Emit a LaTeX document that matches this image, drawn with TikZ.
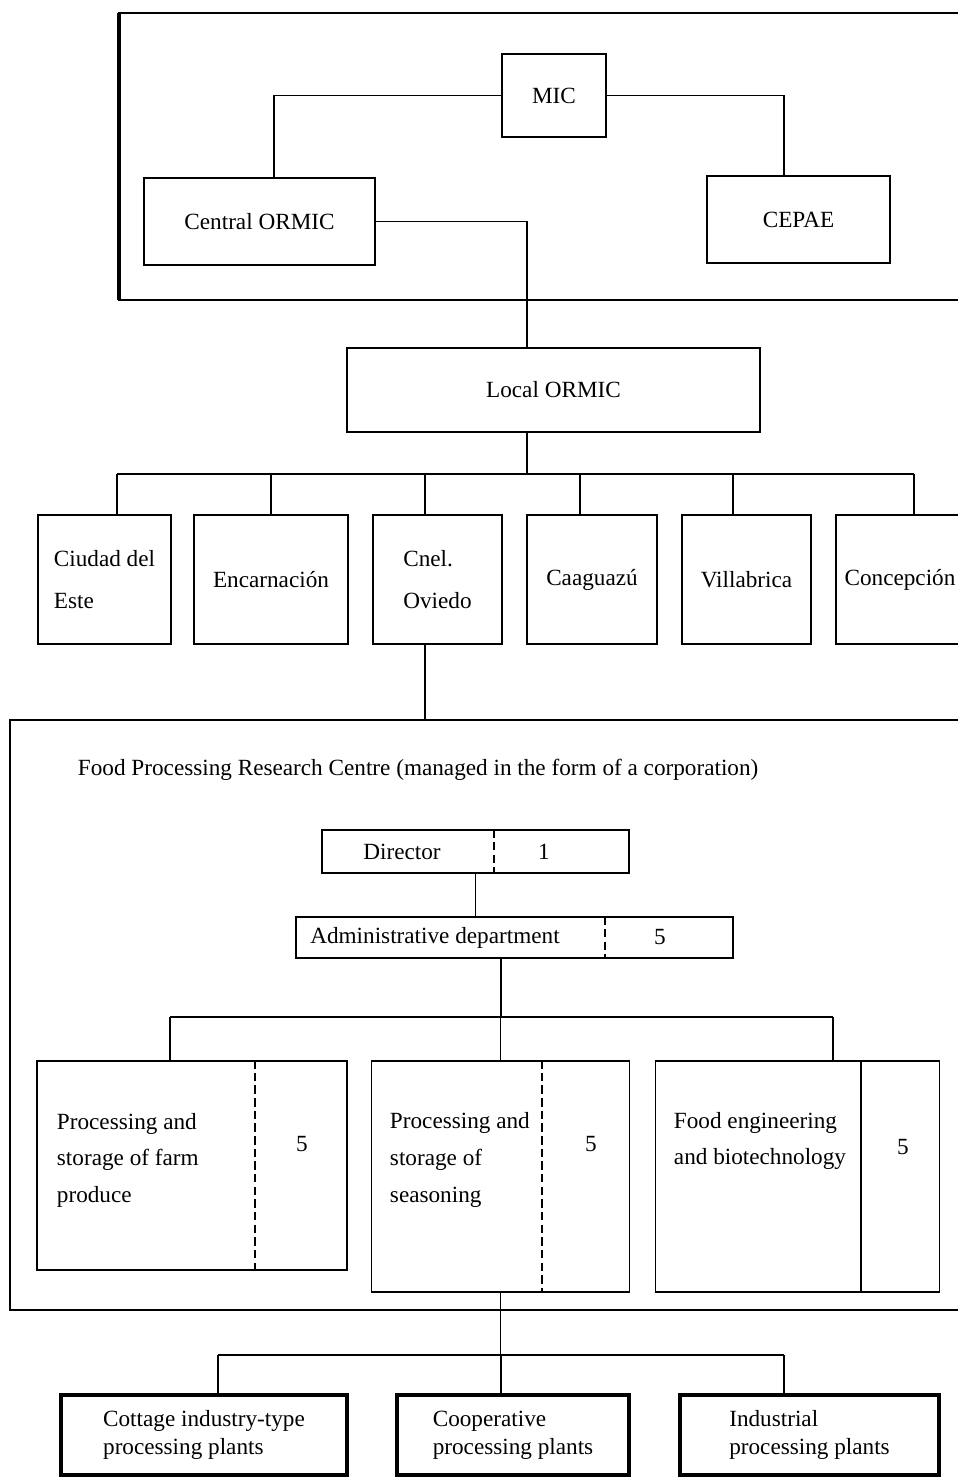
\documentclass[tikz,border=0pt]{standalone}
\usepackage{fontspec}
\setmainfont{Liberation Serif}
\begin{document}
\begin{tikzpicture}[x=0.025cm,y=-0.025cm,
  office/.style={draw,line width=1.5pt,align=left,font=\fontsize{16.5}{30}\selectfont},
  cell/.style={draw,line width=1pt},
  dept/.style={draw,line width=1.2pt},
  plant/.style={draw,line width=2.4pt,align=left,font=\fontsize{16.5}{20}\selectfont},
  lbl/.style={font=\fontsize{16.5}{26}\selectfont,align=left},
  frame/.style={line width=1.1pt},
  link/.style={line width=1.3pt},
  split/.style={line width=1.1pt,dash pattern=on 6pt off 3pt}]
  \useasboundingbox (0,0) rectangle (958,1477);
  \clip (0,0) rectangle (958,1477);
  \draw[frame] (958,13) -- (119,13) -- (119,300) -- (958,300);
  \draw[line width=2.4pt] (119,13) -- (119,300);
  \node[office,minimum width=2.6cm,minimum height=2.075cm] (mic) at (554,95.5) {MIC};
  \node[office,minimum width=5.775cm,minimum height=2.175cm] (cormic) at (259.5,221.5) {Central ORMIC};
  \node[office,minimum width=4.575cm,minimum height=2.175cm] (cepae) at (798.5,219.5) {CEPAE};
  \node[office,minimum width=10.325cm,minimum height=2.1cm] (lormic) at (553.5,390) {Local ORMIC};
  \draw[link] (mic.west) -| ([xshift=0.36cm]cormic.north);
  \draw[link] (mic.east) -| ([xshift=-0.36cm]cepae.north);
  \draw[link] (cormic.east) -| ([xshift=-0.66cm]lormic.north);
  \node[office,minimum width=3.325cm,minimum height=3.225cm] (ciudad) at (104.5,579.5) {Ciudad del\\Este};
  \node[office,minimum width=3.85cm,minimum height=3.225cm] (encarn) at (271,579.5) {Encarnación};
  \node[office,minimum width=3.225cm,minimum height=3.225cm] (cnel) at (437.5,579.5) {Cnel.\\Oviedo};
  \node[office,minimum width=3.25cm,minimum height=3.225cm] (caag) at (592,579.5) {Caaguazú};
  \node[office,minimum width=3.225cm,minimum height=3.225cm] (villa) at (746.5,579.5) {Villabrica};
  \node[office,minimum width=3.2cm,minimum height=3.225cm] (conc) at (900,579.5) {Concepción};
  \coordinate (obus) at (0,474);
  \draw[link] ([xshift=-0.66cm]lormic.south) -- ([xshift=-0.66cm]lormic.south |- obus);
  \draw[link] ([xshift=0.31cm]ciudad.north |- obus) -- ([xshift=0.35cm]conc.north |- obus);
  \foreach \n/\s in {ciudad/0.31,encarn/0,cnel/-0.31,caag/-0.3,villa/-0.34,conc/0.35}
    \draw[link] ([xshift=\s cm]\n.north) -- ([xshift=\s cm]\n.north |- obus);
  \coordinate (ftop) at (0,720);
  \draw[frame] (958,720) -- (10,720) -- (10,1310) -- (958,1310);
  \draw[link] ([xshift=-0.31cm]cnel.south) -- ([xshift=-0.31cm]cnel.south |- ftop);
  \node[lbl,anchor=west] (title) at (73,770) {Food Processing Research Centre (managed in the form of a corporation)};
  \node[cell,minimum width=7.675cm,minimum height=1.075cm] (dir) at (475.5,851.5) {};
  \node[lbl] (dirname) at (402,851.5) {Director};
  \node[lbl] (dirnum) at (544,851.5) {1};
  \draw[split] (dir.north -| 494,0) -- (dir.south -| 494,0);
  \node[cell,minimum width=10.925cm,minimum height=1.025cm] (adm) at (514.5,937.5) {};
  \node[lbl] (admname) at (435,937.5) {Administrative department};
  \node[lbl] (admnum) at (660,937.5) {5};
  \draw[split] (adm.north -| 605,0) -- (adm.south -| 605,0);
  \draw[link] (dir.south) -- (dir.south |- adm.north);
  \node[dept,minimum width=7.75cm,minimum height=5.225cm] (farm) at (192,1165.5) {};
  \node[dept,minimum width=6.45cm,minimum height=5.775cm] (season) at (500.5,1176.5) {};
  \node[dept,minimum width=7.1cm,minimum height=5.775cm] (biotech) at (797.5,1176.5) {};
  \draw[split] (farm.north -| 255,0) -- (farm.south -| 255,0);
  \draw[split] (season.north -| 542,0) -- (season.south -| 542,0);
  \draw[link] (biotech.north -| 861,0) -- (biotech.south -| 861,0);
  \node[lbl,anchor=west] (farmtext) at (52,1160) {Processing and\\storage of farm\\produce};
  \node[lbl,anchor=west] (seasontext) at (385,1160) {Processing and\\storage of\\seasoning};
  \node[lbl,anchor=west] (biotechtext) at (669,1141) {Food engineering\\and biotechnology};
  \node[lbl] (farmnum) at (302,1144) {5};
  \node[lbl] (seasonnum) at (591,1144) {5};
  \node[lbl] (biotechnum) at (903,1147) {5};
  \coordinate (dbus) at (0,1017);
  \draw[link] ([xshift=-0.34cm]adm.south) -- ([xshift=-0.34cm]adm.south |- dbus);
  \draw[link] ([xshift=-0.55cm]farm.north |- dbus) -- ([xshift=0.89cm]biotech.north |- dbus);
  \foreach \n/\s in {farm/-0.55,season/0,biotech/0.89}
    \draw[link] ([xshift=\s cm]\n.north) -- ([xshift=\s cm]\n.north |- dbus);
  \node[plant,minimum width=7.15cm,minimum height=2cm] (cottage) at (204,1435) {Cottage industry-type\\processing plants};
  \node[plant,minimum width=5.8cm,minimum height=2cm] (coop) at (513,1435) {Cooperative\\processing plants};
  \node[plant,minimum width=6.475cm,minimum height=2cm] (indus) at (809.5,1435) {Industrial\\processing plants};
  \coordinate (pbus) at (0,1355);
  \draw[link] (season.south) -- (season.south |- pbus);
  \draw[link] ([xshift=0.35cm]cottage.north |- pbus) -- ([xshift=-0.64cm]indus.north |- pbus);
  \foreach \n/\s in {cottage/0.35,coop/-0.3,indus/-0.64}
    \draw[link] ([xshift=\s cm]\n.north) -- ([xshift=\s cm]\n.north |- pbus);
\end{tikzpicture}
\end{document}
